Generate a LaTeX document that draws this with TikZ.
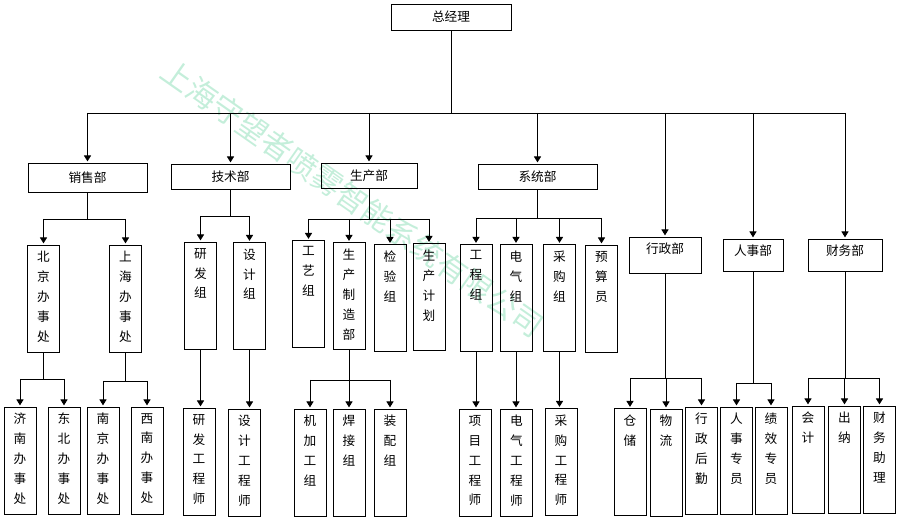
\documentclass[tikz,border=0pt]{standalone}
\usepackage{fontspec}
\setmainfont{Noto Sans CJK SC}
\usetikzlibrary{arrows.meta}
\definecolor{wmgreen}{RGB}{196,238,218}

\begin{document}
\begin{tikzpicture}[
    x=0.03cm, y=-0.03cm,
    box/.style={draw, line width=0.8pt, inner sep=0pt, font=\fontsize{10.8pt}{17pt}\selectfont},
    vbox/.style={box, minimum width=0.96cm, minimum height=3.21cm},
    vtext/.style={anchor=north, align=center, inner sep=5.5pt, font=\fontsize{10.8pt}{17pt}\selectfont},
    conn/.style={line width=0.8pt},
    arrow/.style={conn, -{Triangle[width=6pt,length=5pt]}, shorten >=1pt},
    watermark/.style={rotate=-35, text=wmgreen, font=\fontsize{26pt}{30pt}\selectfont}
]
\useasboundingbox (0,0) rectangle (897,517);

% Watermark
\node[watermark] (wm) at (352.5,198.5) {上海守望者喷雾智能系统有限公司};

% Top
\node[box, minimum width=3.6cm, minimum height=0.78cm] (gm) at (451,17) {总经理};

% Departments
\node[box, minimum width=3.57cm, minimum height=0.87cm] (sales) at (87.5,177.5) {销售部};
\node[box, minimum width=3.57cm, minimum height=0.75cm] (tech) at (230.5,176.5) {技术部};
\node[box, minimum width=2.88cm, minimum height=0.75cm] (prod) at (369,175.5) {生产部};
\node[box, minimum width=3.57cm, minimum height=0.75cm] (sys) at (537.5,176.5) {系统部};
\node[box, minimum width=2.16cm, minimum height=1.08cm, label={[vtext]north:行政部}] (admin) at (665,255) {};
\node[box, minimum width=1.8cm, minimum height=0.96cm, label={[vtext]north:人事部}] (hr) at (753,255) {};
\node[box, minimum width=2.22cm, minimum height=0.96cm, label={[vtext]north:财务部}] (finance) at (845,255) {};

% Groups
\node[vbox, label={[vtext]north:北\\京\\办\\事\\处}] (bj) at (43.5,298.5) {};
\node[vbox, label={[vtext]north:上\\海\\办\\事\\处}] (sh) at (125.5,298.5) {};
\node[vbox, label={[vtext]north:研\\发\\组}] (yf) at (200.5,295.5) {};
\node[vbox, label={[vtext]north:设\\计\\组}] (sj) at (249.5,296) {};
\node[vbox, label={[vtext]north:工\\艺\\组}] (gy) at (308.5,294) {};
\node[vbox, label={[vtext]north:生\\产\\制\\造\\部}] (zz) at (349,296) {};
\node[vbox, label={[vtext]north:检\\验\\组}] (jy) at (390,298) {};
\node[vbox, label={[vtext]north:生\\产\\计\\划}] (jh) at (429,297) {};
\node[vbox, label={[vtext]north:工\\程\\组}] (gc) at (476,298) {};
\node[vbox, label={[vtext]north:电\\气\\组}] (dq) at (516,298) {};
\node[vbox, label={[vtext]north:采\\购\\组}] (cg) at (559.5,298) {};
\node[vbox, label={[vtext]north:预\\算\\员}] (ys) at (601.5,298.5) {};

% Staff
\node[vbox, label={[vtext]north:济\\南\\办\\事\\处}] (jn) at (20,460.5) {};
\node[vbox, label={[vtext]north:东\\北\\办\\事\\处}] (db) at (64,460.5) {};
\node[vbox, label={[vtext]north:南\\京\\办\\事\\处}] (nj) at (103,460.5) {};
\node[vbox, label={[vtext]north:西\\南\\办\\事\\处}] (xn) at (147,460.5) {};
\node[vbox, label={[vtext]north:研\\发\\工\\程\\师}] (yfe) at (199,461.5) {};
\node[vbox, label={[vtext]north:设\\计\\工\\程\\师}] (sje) at (244.5,462.5) {};
\node[vbox, label={[vtext]north:机\\加\\工\\组}] (jj) at (310,462.5) {};
\node[vbox, label={[vtext]north:焊\\接\\组}] (hj) at (349,462.5) {};
\node[vbox, label={[vtext]north:装\\配\\组}] (zp) at (390,462.5) {};
\node[vbox, label={[vtext]north:项\\目\\工\\程\\师}] (xm) at (475,462.5) {};
\node[vbox, label={[vtext]north:电\\气\\工\\程\\师}] (dqe) at (516.5,462.5) {};
\node[vbox, label={[vtext]north:采\\购\\工\\程\\师}] (cge) at (561,462) {};
\node[vbox, label={[vtext]north:仓\\储}] (cc) at (630,462) {};
\node[vbox, label={[vtext]north:物\\流}] (wl) at (666,462.5) {};
\node[vbox, label={[vtext]north:行\\政\\后\\勤}] (xh) at (701.5,460.5) {};
\node[vbox, label={[vtext]north:人\\事\\专\\员}] (rs) at (736.5,460.5) {};
\node[vbox, label={[vtext]north:绩\\效\\专\\员}] (jx) at (771,460.5) {};
\node[vbox, label={[vtext]north:会\\计}] (kj) at (808,459.5) {};
\node[vbox, label={[vtext]north:出\\纳}] (cn) at (844.5,459.5) {};
\node[vbox, label={[vtext]north:财\\务\\助\\理}] (cw) at (879.5,459.5) {};

% Bus levels
\coordinate (b0) at (0,113);
\coordinate (b1) at (0,219);
\coordinate (b2) at (0,216);
\coordinate (b3) at (0,219);
\coordinate (b4) at (0,218);
\coordinate (b5) at (0,379);
\coordinate (b6) at (0,381);
\coordinate (b7) at (0,380);
\coordinate (b8) at (0,378);
\coordinate (b9) at (0,383);
\coordinate (b10) at (0,378);

% Top to departments
\draw[conn] (gm.south) -- (gm.south |- b0);
\draw[conn] (sales.north |- b0) -- (finance.north |- b0);
\foreach \n in {sales,tech,prod,sys,admin,hr,finance}
    \draw[arrow] (\n.north |- b0) -- (\n.north);

% Departments to groups
\foreach \p/\b/\l/\r/\kids in {sales/b1/bj/sh/{bj,sh}, tech/b2/yf/sj/{yf,sj},
        prod/b3/gy/jh/{gy,zz,jy,jh}, sys/b4/gc/ys/{gc,dq,cg,ys},
        bj/b5/jn/db/{jn,db}, sh/b6/nj/xn/{nj,xn}, zz/b7/jj/zp/{jj,hj,zp},
        admin/b8/cc/xh/{cc,wl,xh}, hr/b9/rs/jx/{rs,jx}, finance/b10/kj/cw/{kj,cn,cw}} {
    \draw[conn] (\p.south) -- (\p.south |- \b);
    \draw[conn] (\l.north |- \b) -- (\r.north |- \b);
    \foreach \k in \kids
        \draw[arrow] (\k.north |- \b) -- (\k.north);
}

% Single lines
\foreach \a/\c in {yf/yfe, sj/sje, gc/xm, dq/dqe, cg/cge}
    \draw[arrow] (\a.south) -- (\a.south |- \c.north);

\end{tikzpicture}
\end{document}
